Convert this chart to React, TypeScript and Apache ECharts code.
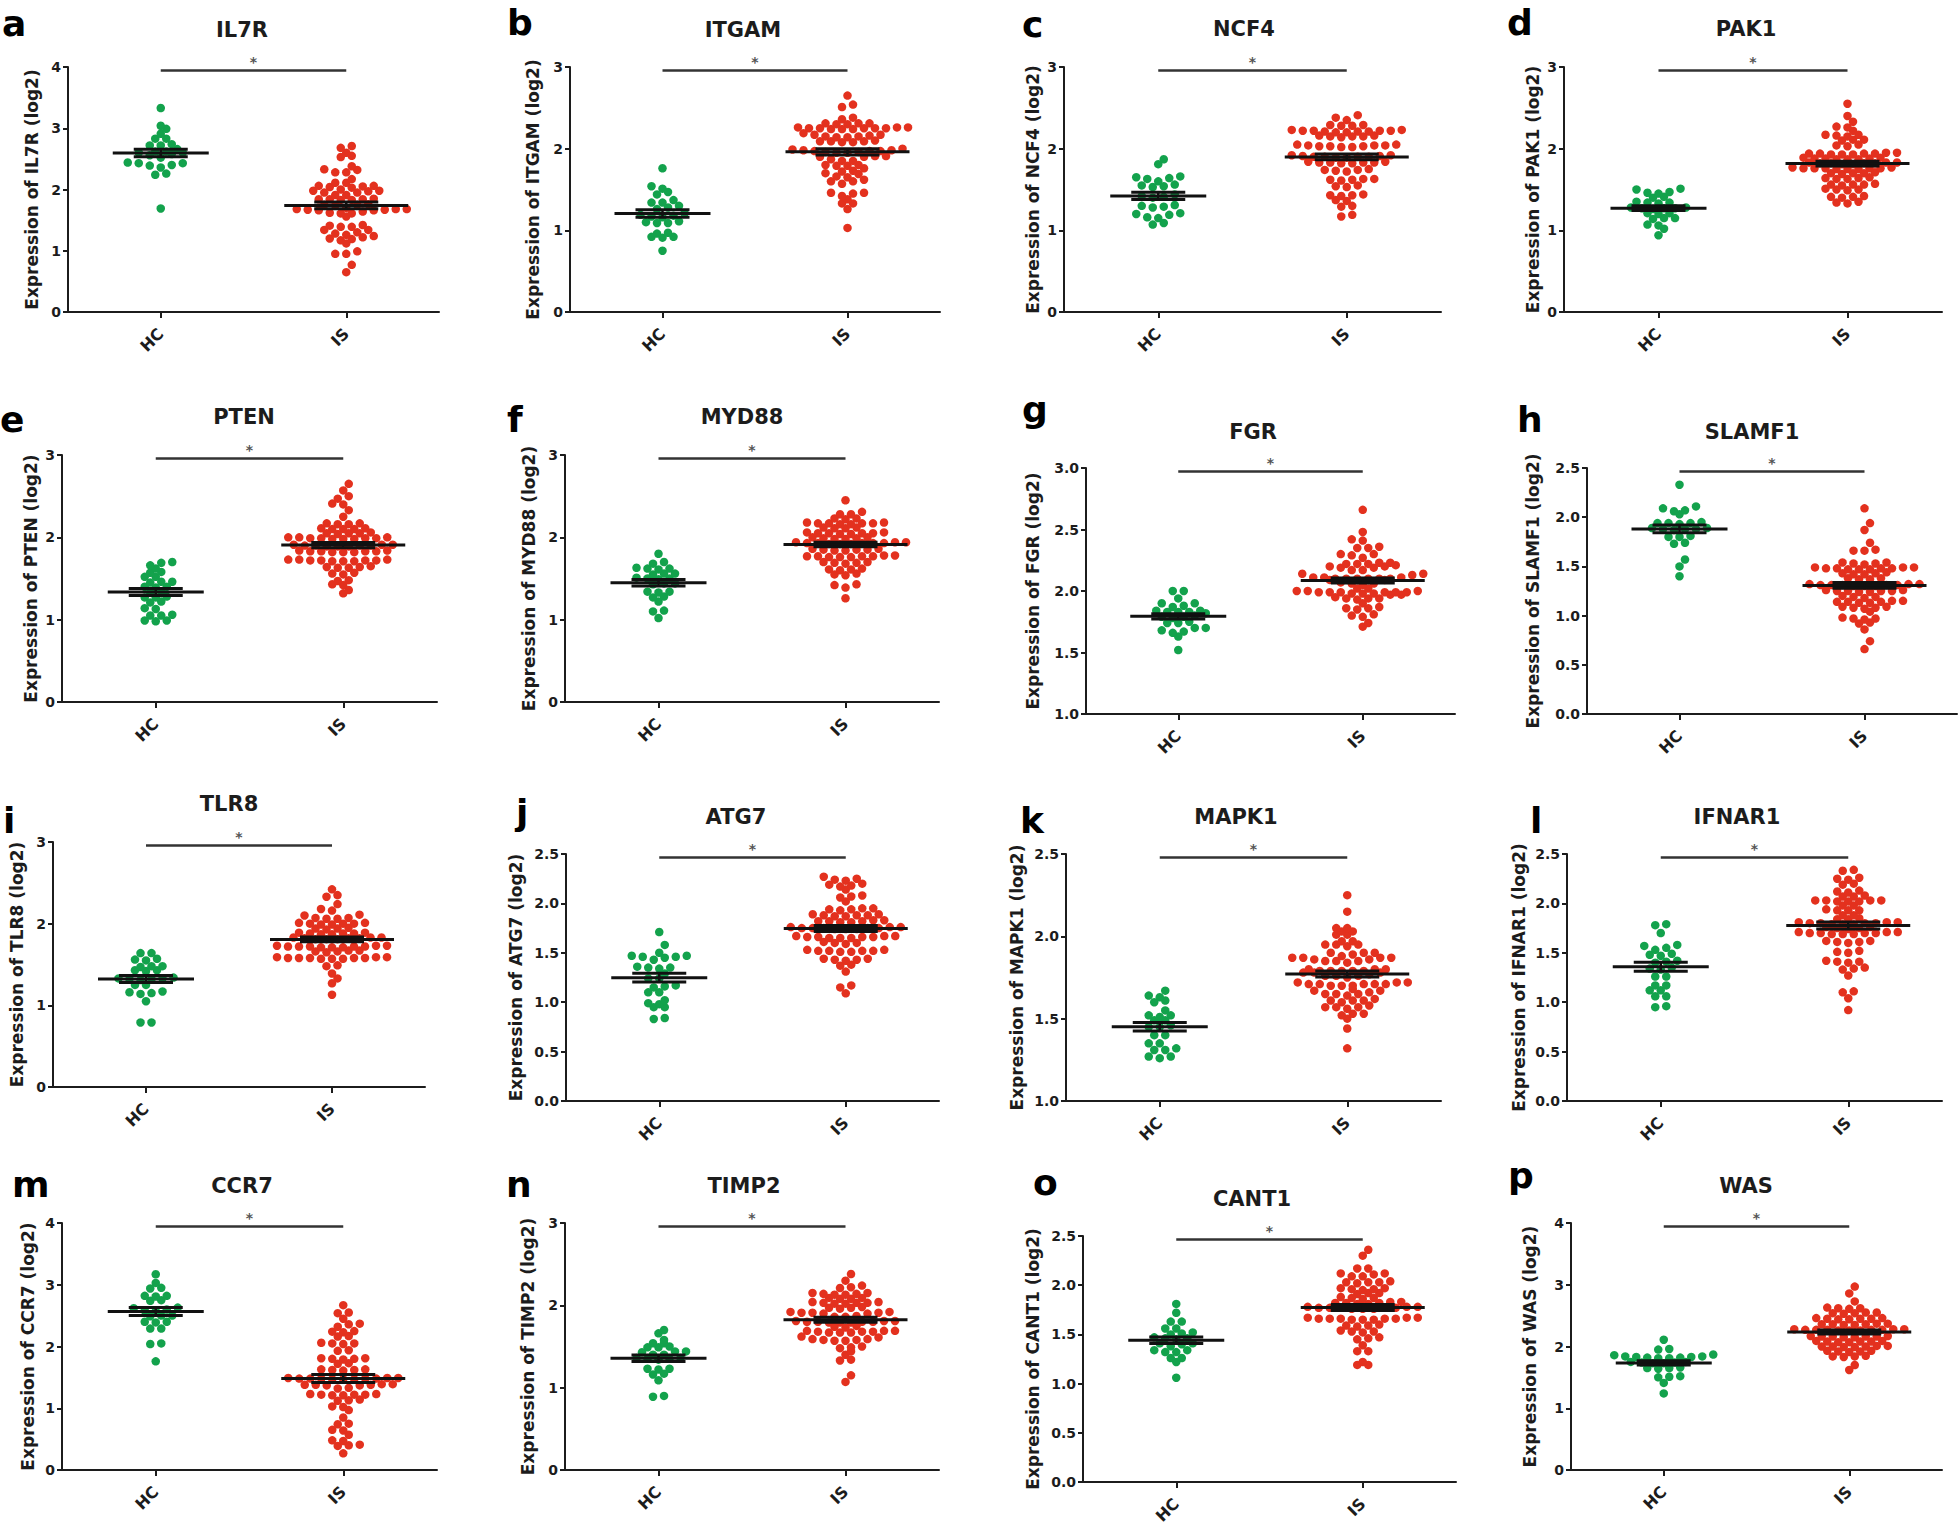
import React, { useEffect, useRef } from "react";
import * as echarts from "echarts";

// ---------------- data ----------------
const GROUPS = ["HC", "IS"];
const GENES = ["IL7R", "ITGAM", "NCF4", "PAK1", "PTEN", "MYD88", "FGR", "SLAMF1", "TLR8", "ATG7", "MAPK1", "IFNAR1", "CCR7", "TIMP2", "CANT1", "WAS"];
const PANEL_LETTERS = ["a", "b", "c", "d", "e", "f", "g", "h", "i", "j", "k", "l", "m", "n", "o", "p"];
const Y_MIN = [0, 0, 0, 0, 0, 0, 1, 0, 0, 0, 1, 0, 0, 0, 0, 0];
const Y_MAX = [4, 3, 3, 3, 3, 3, 3, 2.5, 3, 2.5, 2.5, 2.5, 4, 3, 2.5, 4];
const Y_STEP = [1, 1, 1, 1, 1, 1, 0.5, 0.5, 1, 0.5, 0.5, 0.5, 1, 1, 0.5, 1];

const IL7R_HC = [3.33, 3.04, 2.99, 2.91, 2.83, 2.83, 2.74, 2.72, 2.72, 2.66, 2.62, 2.60, 2.60, 2.62, 2.58, 2.56, 2.52, 2.44, 2.43, 2.43, 2.40, 2.39, 2.36, 2.26, 2.24, 1.69];
const IL7R_IS = [2.71, 2.68, 2.60, 2.55, 2.53, 2.38, 2.33, 2.32, 2.28, 2.28, 2.17, 2.11, 2.11, 2.06, 2.06, 2.05, 2.04, 2.03, 2.00, 1.98, 1.98, 1.97, 1.95, 1.95, 1.91, 1.91, 1.85, 1.84, 1.84, 1.83, 1.83, 1.84, 1.76, 1.75, 1.75, 1.74, 1.70, 1.68, 1.68, 1.67, 1.66, 1.67, 1.68, 1.66, 1.64, 1.62, 1.61, 1.61, 1.56, 1.42, 1.41, 1.39, 1.39, 1.34, 1.34, 1.30, 1.28, 1.26, 1.24, 1.22, 1.20, 1.19, 1.17, 1.12, 0.99, 0.95, 0.95, 0.77, 0.65];

const ITGAM_HC = [1.76, 1.54, 1.51, 1.47, 1.44, 1.37, 1.34, 1.34, 1.30, 1.28, 1.26, 1.21, 1.19, 1.18, 1.17, 1.16, 1.11, 1.10, 1.09, 1.09, 0.97, 0.96, 0.92, 0.92, 0.91, 0.75];
const ITGAM_IS = [2.65, 2.54, 2.51, 2.38, 2.36, 2.31, 2.30, 2.31, 2.30, 2.31, 2.26, 2.25, 2.24, 2.25, 2.24, 2.26, 2.25, 2.24, 2.25, 2.25, 2.26, 2.19, 2.17, 2.17, 2.16, 2.15, 2.15, 2.14, 2.14, 2.10, 2.09, 2.09, 2.08, 2.08, 2.09, 2.00, 1.99, 1.98, 1.97, 1.97, 1.97, 1.96, 1.96, 1.95, 1.95, 1.98, 1.91, 1.91, 1.90, 1.90, 1.87, 1.85, 1.85, 1.80, 1.80, 1.79, 1.79, 1.76, 1.73, 1.72, 1.70, 1.69, 1.66, 1.65, 1.62, 1.60, 1.60, 1.57, 1.46, 1.46, 1.45, 1.42, 1.38, 1.33, 1.33, 1.26, 1.03];

const NCF4_HC = [1.87, 1.81, 1.66, 1.65, 1.64, 1.63, 1.60, 1.56, 1.55, 1.54, 1.53, 1.44, 1.42, 1.41, 1.40, 1.31, 1.30, 1.29, 1.28, 1.21, 1.20, 1.19, 1.16, 1.15, 1.09, 1.07];
const NCF4_IS = [2.41, 2.38, 2.35, 2.29, 2.28, 2.28, 2.29, 2.23, 2.22, 2.21, 2.22, 2.20, 2.22, 2.23, 2.21, 2.22, 2.20, 2.21, 2.16, 2.15, 2.15, 2.14, 2.15, 2.16, 2.05, 2.04, 2.03, 2.03, 2.02, 2.04, 2.03, 2.02, 2.05, 2.04, 1.92, 1.91, 1.90, 1.90, 1.89, 1.91, 1.90, 1.89, 1.92, 1.90, 1.84, 1.83, 1.83, 1.82, 1.84, 1.83, 1.82, 1.83, 1.75, 1.74, 1.73, 1.74, 1.72, 1.63, 1.62, 1.62, 1.61, 1.63, 1.55, 1.54, 1.53, 1.44, 1.43, 1.42, 1.43, 1.37, 1.36, 1.30, 1.29, 1.19, 1.17];

const PAK1_HC = [1.51, 1.50, 1.47, 1.46, 1.45, 1.41, 1.40, 1.35, 1.34, 1.33, 1.34, 1.28, 1.27, 1.27, 1.26, 1.27, 1.28, 1.21, 1.21, 1.20, 1.15, 1.14, 1.15, 1.07, 1.06, 1.02, 0.94];
const PAK1_IS = [2.55, 2.40, 2.33, 2.27, 2.26, 2.22, 2.17, 2.16, 2.17, 2.15, 2.11, 2.10, 2.11, 2.04, 2.05, 2.03, 1.94, 1.93, 1.95, 1.94, 1.93, 1.94, 1.95, 1.93, 1.94, 1.88, 1.87, 1.89, 1.88, 1.87, 1.88, 1.89, 1.87, 1.82, 1.83, 1.81, 1.82, 1.83, 1.82, 1.81, 1.82, 1.83, 1.76, 1.75, 1.77, 1.76, 1.75, 1.76, 1.77, 1.76, 1.75, 1.76, 1.70, 1.71, 1.69, 1.70, 1.70, 1.64, 1.63, 1.65, 1.64, 1.63, 1.56, 1.57, 1.55, 1.56, 1.56, 1.50, 1.49, 1.51, 1.50, 1.41, 1.42, 1.40, 1.41, 1.35, 1.34, 1.33];

const PTEN_HC = [1.70, 1.69, 1.66, 1.62, 1.58, 1.57, 1.52, 1.52, 1.46, 1.46, 1.45, 1.40, 1.40, 1.39, 1.34, 1.33, 1.28, 1.27, 1.27, 1.22, 1.21, 1.14, 1.13, 1.06, 1.05, 1.05, 0.99, 0.98, 0.99];
const PTEN_IS = [2.65, 2.57, 2.50, 2.47, 2.41, 2.40, 2.33, 2.25, 2.17, 2.16, 2.16, 2.17, 2.10, 2.11, 2.10, 2.11, 2.10, 2.05, 2.05, 2.04, 2.06, 2.05, 1.99, 2.00, 1.98, 1.99, 2.00, 1.98, 1.99, 1.98, 2.00, 1.99, 1.90, 1.91, 1.89, 1.90, 1.91, 1.89, 1.90, 1.91, 1.90, 1.89, 1.83, 1.82, 1.84, 1.83, 1.82, 1.83, 1.84, 1.83, 1.82, 1.72, 1.73, 1.71, 1.72, 1.73, 1.71, 1.72, 1.72, 1.73, 1.71, 1.64, 1.63, 1.65, 1.64, 1.63, 1.56, 1.55, 1.57, 1.48, 1.47, 1.42, 1.43, 1.36, 1.32];

const MYD88_HC = [1.80, 1.70, 1.68, 1.62, 1.62, 1.61, 1.63, 1.56, 1.55, 1.56, 1.50, 1.50, 1.49, 1.51, 1.44, 1.43, 1.44, 1.34, 1.33, 1.34, 1.28, 1.27, 1.22, 1.11, 1.10, 1.02];
const MYD88_IS = [2.45, 2.31, 2.28, 2.28, 2.23, 2.22, 2.23, 2.17, 2.18, 2.16, 2.17, 2.18, 2.16, 2.17, 2.17, 2.11, 2.12, 2.11, 2.12, 2.05, 2.06, 2.04, 2.05, 2.06, 2.04, 2.05, 2.05, 1.99, 2.00, 1.98, 1.99, 2.00, 1.98, 1.93, 1.94, 1.92, 1.93, 1.94, 1.92, 1.93, 1.93, 1.94, 1.92, 1.93, 1.85, 1.86, 1.84, 1.85, 1.86, 1.84, 1.85, 1.77, 1.78, 1.76, 1.77, 1.78, 1.76, 1.77, 1.77, 1.76, 1.69, 1.70, 1.68, 1.69, 1.70, 1.61, 1.62, 1.60, 1.61, 1.55, 1.54, 1.56, 1.43, 1.42, 1.39, 1.26];

const FGR_HC = [2.00, 2.00, 1.94, 1.90, 1.90, 1.88, 1.87, 1.84, 1.83, 1.83, 1.82, 1.84, 1.83, 1.79, 1.80, 1.78, 1.79, 1.74, 1.75, 1.74, 1.70, 1.70, 1.68, 1.67, 1.66, 1.63, 1.52];
const FGR_IS = [2.66, 2.48, 2.42, 2.41, 2.36, 2.35, 2.35, 2.30, 2.30, 2.29, 2.27, 2.22, 2.23, 2.22, 2.21, 2.22, 2.23, 2.20, 2.19, 2.20, 2.19, 2.17, 2.17, 2.14, 2.14, 2.13, 2.10, 2.11, 2.10, 2.09, 2.10, 2.11, 2.10, 2.09, 2.10, 2.11, 2.10, 2.06, 2.05, 2.06, 2.07, 2.02, 2.02, 1.99, 2.00, 1.99, 1.98, 1.99, 2.00, 1.99, 1.98, 1.99, 2.00, 1.99, 1.98, 1.97, 1.97, 1.94, 1.93, 1.94, 1.95, 1.94, 1.90, 1.86, 1.87, 1.86, 1.85, 1.80, 1.81, 1.79, 1.74, 1.71];

const SLAMF1_HC = [2.33, 2.11, 2.09, 2.07, 2.06, 2.03, 1.95, 1.94, 1.94, 1.93, 1.94, 1.89, 1.88, 1.88, 1.87, 1.88, 1.89, 1.81, 1.80, 1.80, 1.74, 1.73, 1.57, 1.50, 1.40];
const SLAMF1_IS = [2.09, 1.94, 1.87, 1.74, 1.66, 1.66, 1.67, 1.53, 1.54, 1.52, 1.53, 1.54, 1.48, 1.49, 1.47, 1.48, 1.49, 1.47, 1.48, 1.49, 1.47, 1.48, 1.43, 1.44, 1.42, 1.43, 1.42, 1.37, 1.38, 1.37, 1.38, 1.31, 1.32, 1.30, 1.31, 1.32, 1.30, 1.31, 1.32, 1.30, 1.31, 1.31, 1.25, 1.26, 1.24, 1.25, 1.26, 1.24, 1.25, 1.25, 1.19, 1.20, 1.18, 1.19, 1.14, 1.13, 1.15, 1.14, 1.13, 1.15, 1.14, 1.08, 1.09, 1.07, 1.08, 1.09, 1.04, 0.97, 0.98, 0.96, 0.97, 0.93, 0.92, 0.86, 0.74, 0.66];

const TLR8_HC = [1.64, 1.64, 1.57, 1.56, 1.55, 1.48, 1.48, 1.47, 1.43, 1.42, 1.43, 1.33, 1.32, 1.33, 1.31, 1.32, 1.34, 1.25, 1.25, 1.17, 1.16, 1.15, 1.14, 1.05, 0.79, 0.79];
const TLR8_IS = [2.42, 2.35, 2.33, 2.24, 2.18, 2.16, 2.11, 2.10, 2.06, 2.07, 2.06, 2.07, 2.00, 2.01, 1.99, 2.00, 2.01, 1.99, 2.00, 1.94, 1.95, 1.93, 1.94, 1.88, 1.89, 1.87, 1.88, 1.89, 1.87, 1.88, 1.82, 1.83, 1.81, 1.82, 1.83, 1.81, 1.82, 1.83, 1.81, 1.72, 1.73, 1.71, 1.72, 1.73, 1.71, 1.72, 1.73, 1.71, 1.72, 1.72, 1.66, 1.67, 1.65, 1.66, 1.67, 1.58, 1.59, 1.57, 1.58, 1.59, 1.57, 1.58, 1.59, 1.57, 1.58, 1.58, 1.49, 1.48, 1.39, 1.33, 1.27, 1.13];

const ATG7_HC = [1.71, 1.58, 1.50, 1.46, 1.47, 1.45, 1.46, 1.47, 1.43, 1.36, 1.35, 1.35, 1.34, 1.29, 1.24, 1.24, 1.17, 1.16, 1.15, 1.10, 1.10, 1.02, 0.99, 0.98, 0.95, 0.95, 0.84, 0.83];
const ATG7_IS = [2.27, 2.25, 2.24, 2.23, 2.20, 2.19, 2.18, 2.17, 2.14, 2.07, 2.08, 2.06, 2.02, 1.94, 1.95, 1.93, 1.94, 1.95, 1.88, 1.89, 1.87, 1.88, 1.89, 1.87, 1.88, 1.82, 1.83, 1.81, 1.82, 1.83, 1.81, 1.82, 1.75, 1.76, 1.74, 1.75, 1.76, 1.74, 1.75, 1.76, 1.74, 1.75, 1.75, 1.66, 1.67, 1.65, 1.66, 1.67, 1.65, 1.66, 1.67, 1.65, 1.66, 1.60, 1.61, 1.59, 1.60, 1.52, 1.53, 1.51, 1.52, 1.53, 1.51, 1.52, 1.52, 1.43, 1.44, 1.42, 1.43, 1.44, 1.38, 1.37, 1.31, 1.17, 1.15, 1.09];

const MAPK1_HC = [1.67, 1.64, 1.63, 1.61, 1.60, 1.55, 1.52, 1.52, 1.51, 1.49, 1.49, 1.46, 1.45, 1.45, 1.40, 1.40, 1.35, 1.35, 1.32, 1.31, 1.31, 1.27, 1.27, 1.26];
const MAPK1_IS = [2.25, 2.15, 2.05, 2.05, 2.03, 2.03, 2.01, 2.01, 1.97, 1.97, 1.95, 1.95, 1.94, 1.95, 1.90, 1.90, 1.89, 1.90, 1.87, 1.87, 1.86, 1.87, 1.88, 1.87, 1.86, 1.85, 1.85, 1.84, 1.85, 1.79, 1.80, 1.78, 1.79, 1.80, 1.78, 1.79, 1.80, 1.78, 1.79, 1.79, 1.76, 1.76, 1.75, 1.76, 1.77, 1.71, 1.72, 1.70, 1.71, 1.72, 1.70, 1.71, 1.72, 1.70, 1.71, 1.71, 1.67, 1.67, 1.68, 1.66, 1.65, 1.65, 1.64, 1.65, 1.61, 1.61, 1.62, 1.60, 1.61, 1.57, 1.57, 1.58, 1.56, 1.57, 1.53, 1.53, 1.52, 1.50, 1.44, 1.32];

const IFNAR1_HC = [1.79, 1.78, 1.70, 1.58, 1.57, 1.55, 1.53, 1.48, 1.49, 1.47, 1.41, 1.42, 1.40, 1.34, 1.35, 1.33, 1.26, 1.26, 1.17, 1.17, 1.12, 1.12, 1.06, 1.06, 0.95, 0.96];
const IFNAR1_IS = [2.34, 2.33, 2.25, 2.26, 2.24, 2.20, 2.19, 2.13, 2.12, 2.11, 2.07, 2.08, 2.07, 2.03, 2.02, 2.03, 2.03, 2.02, 2.03, 2.02, 1.98, 1.98, 1.93, 1.94, 1.93, 1.93, 1.88, 1.88, 1.84, 1.85, 1.84, 1.80, 1.81, 1.79, 1.80, 1.81, 1.79, 1.80, 1.81, 1.79, 1.80, 1.75, 1.76, 1.74, 1.75, 1.76, 1.70, 1.71, 1.69, 1.70, 1.71, 1.69, 1.70, 1.71, 1.69, 1.70, 1.61, 1.62, 1.60, 1.61, 1.62, 1.51, 1.52, 1.50, 1.41, 1.42, 1.40, 1.41, 1.34, 1.35, 1.33, 1.27, 1.11, 1.10, 1.04, 0.92];

const CCR7_HC = [3.17, 3.03, 2.95, 2.94, 2.82, 2.82, 2.81, 2.75, 2.74, 2.63, 2.62, 2.60, 2.58, 2.57, 2.50, 2.50, 2.49, 2.40, 2.40, 2.39, 2.29, 2.29, 2.05, 2.04, 1.76];
const CCR7_IS = [2.67, 2.54, 2.55, 2.45, 2.37, 2.36, 2.32, 2.24, 2.25, 2.23, 2.17, 2.16, 2.05, 2.06, 2.04, 2.05, 1.93, 1.94, 1.80, 1.81, 1.79, 1.80, 1.81, 1.73, 1.72, 1.62, 1.63, 1.61, 1.62, 1.63, 1.48, 1.49, 1.47, 1.48, 1.49, 1.47, 1.48, 1.49, 1.47, 1.48, 1.48, 1.38, 1.39, 1.37, 1.38, 1.39, 1.37, 1.38, 1.32, 1.33, 1.22, 1.23, 1.21, 1.22, 1.23, 1.21, 1.22, 1.13, 1.12, 1.14, 1.03, 1.02, 0.97, 0.85, 0.75, 0.74, 0.65, 0.64, 0.57, 0.48, 0.47, 0.40, 0.41, 0.39, 0.27];

const TIMP2_HC = [1.70, 1.66, 1.58, 1.54, 1.54, 1.50, 1.49, 1.49, 1.44, 1.44, 1.43, 1.40, 1.40, 1.36, 1.35, 1.35, 1.34, 1.36, 1.23, 1.23, 1.22, 1.17, 1.16, 1.09, 0.90, 0.89];
const TIMP2_IS = [2.38, 2.30, 2.24, 2.22, 2.21, 2.14, 2.15, 2.13, 2.14, 2.15, 2.13, 2.08, 2.09, 2.08, 2.09, 2.03, 2.04, 2.02, 2.03, 2.04, 2.02, 2.03, 1.97, 1.98, 1.96, 1.97, 1.91, 1.92, 1.90, 1.91, 1.92, 1.90, 1.91, 1.86, 1.87, 1.86, 1.80, 1.81, 1.79, 1.80, 1.81, 1.79, 1.80, 1.81, 1.79, 1.80, 1.74, 1.75, 1.73, 1.68, 1.69, 1.67, 1.68, 1.69, 1.67, 1.68, 1.69, 1.67, 1.62, 1.61, 1.58, 1.59, 1.57, 1.58, 1.59, 1.57, 1.49, 1.48, 1.50, 1.44, 1.40, 1.34, 1.33, 1.15, 1.07];

const CANT1_HC = [1.81, 1.72, 1.63, 1.63, 1.56, 1.56, 1.51, 1.50, 1.52, 1.46, 1.46, 1.45, 1.47, 1.41, 1.41, 1.40, 1.38, 1.34, 1.34, 1.32, 1.32, 1.26, 1.26, 1.22, 1.06];
const CANT1_IS = [2.36, 2.30, 2.17, 2.17, 2.12, 2.12, 2.11, 2.09, 2.09, 2.03, 2.03, 2.02, 2.04, 2.03, 1.96, 1.97, 1.95, 1.96, 1.97, 1.92, 1.92, 1.91, 1.87, 1.87, 1.86, 1.88, 1.82, 1.83, 1.81, 1.82, 1.83, 1.81, 1.82, 1.77, 1.78, 1.76, 1.77, 1.78, 1.76, 1.77, 1.78, 1.76, 1.77, 1.77, 1.66, 1.67, 1.65, 1.66, 1.67, 1.65, 1.66, 1.67, 1.65, 1.66, 1.66, 1.59, 1.60, 1.58, 1.59, 1.53, 1.54, 1.52, 1.53, 1.46, 1.47, 1.45, 1.39, 1.33, 1.33, 1.22, 1.19, 1.19];

const WAS_HC = [2.11, 1.95, 1.96, 1.86, 1.87, 1.84, 1.83, 1.82, 1.81, 1.82, 1.83, 1.84, 1.81, 1.75, 1.74, 1.73, 1.75, 1.74, 1.73, 1.65, 1.66, 1.64, 1.65, 1.51, 1.52, 1.50, 1.41, 1.24];
const WAS_IS = [2.97, 2.86, 2.73, 2.63, 2.62, 2.61, 2.62, 2.54, 2.55, 2.53, 2.54, 2.55, 2.45, 2.46, 2.44, 2.45, 2.46, 2.44, 2.45, 2.36, 2.37, 2.35, 2.36, 2.37, 2.35, 2.36, 2.27, 2.28, 2.26, 2.27, 2.28, 2.26, 2.27, 2.28, 2.27, 2.26, 2.27, 2.16, 2.17, 2.15, 2.16, 2.17, 2.15, 2.16, 2.16, 2.08, 2.09, 2.07, 2.08, 2.09, 2.07, 2.08, 2.00, 2.01, 1.99, 2.00, 2.01, 1.99, 2.00, 1.92, 1.93, 1.91, 1.92, 1.93, 1.84, 1.85, 1.83, 1.84, 1.70, 1.62];

const HC_DATA = [IL7R_HC, ITGAM_HC, NCF4_HC, PAK1_HC, PTEN_HC, MYD88_HC, FGR_HC, SLAMF1_HC, TLR8_HC, ATG7_HC, MAPK1_HC, IFNAR1_HC, CCR7_HC, TIMP2_HC, CANT1_HC, WAS_HC];
const IS_DATA = [IL7R_IS, ITGAM_IS, NCF4_IS, PAK1_IS, PTEN_IS, MYD88_IS, FGR_IS, SLAMF1_IS, TLR8_IS, ATG7_IS, MAPK1_IS, IFNAR1_IS, CCR7_IS, TIMP2_IS, CANT1_IS, WAS_IS];

// ---------------- layout ----------------
// [left, top, width, height] of each plot area, px
const GRID_BOX = [
  [68, 67, 371, 245], [570, 67, 370, 245], [1064, 67, 377, 245], [1564, 67, 378, 245],
  [62, 455, 375, 247], [565, 455, 374, 247], [1086, 468, 369, 246], [1587, 468, 370, 246],
  [53, 842, 372, 245], [566, 854, 373, 247], [1066, 854, 375, 247], [1567, 854, 375, 247],
  [62, 1223, 375, 247], [565, 1223, 374, 247], [1083, 1236, 373, 246], [1571, 1223, 371, 247],
];
const NAME_GAP = [28, 29, 23, 23, 23, 28, 45, 46, 28, 42, 41, 40, 26, 29, 42, 33];
const TITLE_POS = [
  [242, 30], [743, 30], [1244, 29], [1746, 29],
  [244, 417], [742, 417], [1253, 432], [1752, 432],
  [229, 804], [736, 817], [1236, 817], [1737, 817],
  [242, 1186], [744, 1186], [1252, 1199], [1746, 1186],
];
const LETTER_POS = [
  [2, 23], [507, 22], [1022, 24], [1507, 22],
  [0, 419], [507, 419], [1022, 409], [1517, 419],
  [3, 820], [516, 812], [1020, 820], [1530, 820],
  [12, 1184], [506, 1184], [1033, 1182], [1508, 1175],
];

const FONT = "DejaVu Sans";
const INK = "#1c1c1c";
const GREEN = "#13a24c";
const RED = "#e3311e";
const DOT = 8.5;
const DOT_GAP = 11;
const MEAN_HALF = [48, 62];
const CAP_HALF = [27, 32];

function meanSem(v: number[]) {
  const n = v.length;
  const m = v.reduce((a, b) => a + b, 0) / n;
  const sd = Math.sqrt(v.reduce((a, b) => a + (b - m) * (b - m), 0) / (n - 1));
  return [m, sd / Math.sqrt(n)];
}

function swarm(values: number[], cat: number, pxPerX: number, pxPerY: number) {
  const sorted = [...values].sort((a, b) => a - b);
  const rows: number[][] = [];
  let start = -Infinity;
  let prev = -Infinity;
  for (const v of sorted) {
    if (
      rows.length === 0 ||
      (v - prev) * pxPerY > 2.5 ||
      (v - start) * pxPerY > 5 ||
      rows[rows.length - 1].length >= 12
    ) {
      rows.push([v]);
      start = v;
    } else {
      rows[rows.length - 1].push(v);
    }
    prev = v;
  }
  const placed: number[][] = [];
  const out: number[][] = [];
  for (const row of rows) {
    const n = row.length;
    const cands = [0, 0.5].map((shift) => {
      const slots: number[] = [];
      for (let k = 0; k < n; k++) slots.push(k - (n - 1) / 2 + (n % 2 === 1 ? shift : -shift));
      slots.sort((a, b) => Math.abs(a) - Math.abs(b) || a - b);
      let hits = 0;
      row.forEach((v, k) => {
        const px = slots[k] * DOT_GAP;
        const py = v * pxPerY;
        for (const p of placed) {
          const d = Math.hypot(p[0] - px, p[1] - py);
          if (d < DOT) hits += DOT - d;
        }
      });
      return { slots, hits };
    });
    const best = cands[0].hits <= cands[1].hits + 0.01 ? cands[0] : cands[1];
    row.forEach((v, k) => {
      const px = best.slots[k] * DOT_GAP;
      placed.push([px, v * pxPerY]);
      out.push([cat + px / pxPerX, v]);
    });
  }
  return out;
}

function buildOption() {
  const grid: any[] = [];
  const xAxis: any[] = [];
  const yAxis: any[] = [];
  const series: any[] = [];
  const graphic: any[] = [];
  const axisLineStyle = { color: INK, width: 2 };

  GENES.forEach((gene, i) => {
    const [left, top, width, height] = GRID_BOX[i];
    grid.push({ left, top, width, height });
    const step = Y_STEP[i];
    xAxis.push({
      gridIndex: i,
      type: "value",
      min: 0.5,
      max: 2.5,
      splitLine: { show: false },
      axisLine: { show: true, lineStyle: axisLineStyle },
      axisTick: { show: true, customValues: [1, 2], length: 6, lineStyle: { color: INK, width: 2 } },
      axisLabel: {
        customValues: [1, 2],
        formatter: (v: number) => GROUPS[Math.round(v) - 1],
        rotate: 45,
        margin: 19,
        fontSize: 16,
        fontWeight: "bold",
        fontFamily: FONT,
        color: INK,
      },
    });
    yAxis.push({
      gridIndex: i,
      type: "value",
      min: Y_MIN[i],
      max: Y_MAX[i],
      interval: step,
      name: `Expression of ${gene} (log2)`,
      nameLocation: "middle",
      nameRotate: 90,
      nameGap: NAME_GAP[i],
      nameTextStyle: { fontSize: 17, fontWeight: "bold", fontFamily: FONT, color: INK },
      splitLine: { show: false },
      axisLine: { show: true, lineStyle: axisLineStyle },
      axisTick: { show: true, length: 5, lineStyle: { color: INK, width: 2 } },
      axisLabel: {
        margin: 7,
        fontSize: 14,
        fontWeight: "bold",
        fontFamily: FONT,
        color: INK,
        formatter: (v: number) => (step < 1 ? v.toFixed(1) : String(Math.round(v))),
      },
    });

    const pxPerX = width / 2;
    const pxPerY = height / (Y_MAX[i] - Y_MIN[i]);
    const groupsData = [HC_DATA[i], IS_DATA[i]];
    const colors = [GREEN, RED];
    groupsData.forEach((vals, g) => {
      series.push({
        type: "scatter",
        xAxisIndex: i,
        yAxisIndex: i,
        symbol: "circle",
        symbolSize: DOT,
        itemStyle: { color: colors[g], opacity: 1 },
        silent: true,
        data: swarm(vals, g + 1, pxPerX, pxPerY),
        z: 2,
      });
    });

    const stats = groupsData.map((vals, g) => [g + 1, ...meanSem(vals)]);
    series.push({
      type: "custom",
      xAxisIndex: i,
      yAxisIndex: i,
      silent: true,
      clip: false,
      z: 5,
      data: stats,
      renderItem: (params: any, api: any) => {
        const g = api.value(0);
        const m = api.value(1);
        const s = api.value(2);
        const c = api.coord([g, m]);
        const hi = api.coord([g, m + s]);
        const lo = api.coord([g, m - s]);
        const half = MEAN_HALF[g - 1];
        const cap = CAP_HALF[g - 1];
        const st = (w: number) => ({ stroke: "#111", lineWidth: w });
        return {
          type: "group",
          children: [
            { type: "line", shape: { x1: c[0] - half, y1: c[1], x2: c[0] + half, y2: c[1] }, style: st(3) },
            { type: "line", shape: { x1: c[0], y1: hi[1], x2: c[0], y2: lo[1] }, style: st(2.5) },
            { type: "line", shape: { x1: c[0] - cap, y1: hi[1], x2: c[0] + cap, y2: hi[1] }, style: st(3) },
            { type: "line", shape: { x1: c[0] - cap, y1: lo[1], x2: c[0] + cap, y2: lo[1] }, style: st(3) },
          ],
        };
      },
    });

    series.push({
      type: "custom",
      xAxisIndex: i,
      yAxisIndex: i,
      silent: true,
      clip: false,
      z: 5,
      data: [[1, 2, Y_MAX[i]]],
      renderItem: (params: any, api: any) => {
        const a = api.coord([api.value(0), api.value(2)]);
        const b = api.coord([api.value(1), api.value(2)]);
        const y = a[1] + 3.5;
        return {
          type: "group",
          children: [
            { type: "line", shape: { x1: a[0], y1: y, x2: b[0], y2: y }, style: { stroke: "#333", lineWidth: 2.5 } },
            {
              type: "text",
              x: (a[0] + b[0]) / 2,
              y: y - 9,
              style: { text: "*", fill: "#555", font: `bold 14px ${FONT}`, align: "center", verticalAlign: "middle" },
            },
          ],
        };
      },
    });

    graphic.push({
      type: "text",
      x: TITLE_POS[i][0],
      y: TITLE_POS[i][1],
      style: { text: gene, fill: INK, font: `bold 21px ${FONT}`, align: "center", verticalAlign: "middle" },
    });
    graphic.push({
      type: "text",
      x: LETTER_POS[i][0],
      y: LETTER_POS[i][1],
      style: { text: PANEL_LETTERS[i], fill: "#000", font: `bold 36px ${FONT}`, align: "left", verticalAlign: "middle" },
    });
  });

  return {
    animation: false,
    backgroundColor: "#ffffff",
    textStyle: { fontFamily: FONT },
    grid,
    xAxis,
    yAxis,
    series,
    graphic,
  };
}

export default function App() {
  const ref = useRef<HTMLDivElement>(null);
  useEffect(() => {
    document.body.style.margin = "0";
    const chart = echarts.init(ref.current as HTMLDivElement, null, { renderer: "svg" });
    chart.setOption(buildOption() as any);
    return () => chart.dispose();
  }, []);
  return <div ref={ref} style={{ width: 1960, height: 1530, background: "#fff" }} />;
}
